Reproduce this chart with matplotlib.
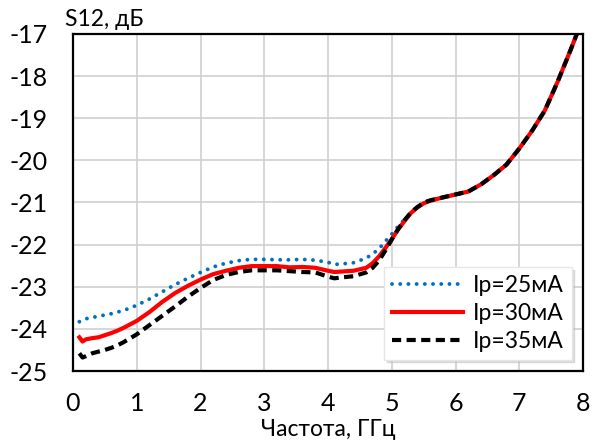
import numpy as np
import matplotlib.pyplot as plt

plt.rcParams['font.family'] = ['Lato', 'DejaVu Sans']
plt.rcParams['axes.unicode_minus'] = False

# Частота, ГГц
freq = [0.1, 0.15, 0.2, 0.3, 0.4, 0.5, 0.6, 0.7, 0.8, 0.9, 1.0, 1.2, 1.4, 1.6, 1.8,
        2.0, 2.2, 2.4, 2.6, 2.8, 3.0, 3.2, 3.4, 3.6, 3.8, 4.0, 4.1, 4.2, 4.4, 4.6,
        4.7, 4.8, 4.9, 5.0, 5.1, 5.2, 5.3, 5.4, 5.5, 5.6, 5.8, 6.0, 6.2, 6.4, 6.6,
        6.8, 7.0, 7.2, 7.4, 7.6, 7.8, 8.0]

# общий участок выше 5.6 ГГц (все три кривые совпадают)
tail = [-20.88, -20.81, -20.74, -20.57, -20.35, -20.10, -19.72, -19.30, -18.82,
        -18.14, -17.40, -16.62]

s12_25 = [-23.83, -23.80, -23.76, -23.73, -23.70, -23.67, -23.64, -23.60, -23.56,
          -23.50, -23.44, -23.29, -23.12, -22.95, -22.80, -22.66, -22.53, -22.44,
          -22.38, -22.35, -22.35, -22.36, -22.36, -22.35, -22.37, -22.42, -22.47,
          -22.46, -22.43, -22.32, -22.22, -22.10, -21.92, -21.75, -21.57, -21.40,
          -21.24, -21.10, -21.00, -20.94] + tail

s12_30 = [-24.20, -24.30, -24.25, -24.22, -24.20, -24.15, -24.10, -24.04, -23.97,
          -23.89, -23.81, -23.60, -23.36, -23.15, -22.98, -22.83, -22.70, -22.62,
          -22.55, -22.51, -22.51, -22.51, -22.54, -22.53, -22.55, -22.62, -22.65,
          -22.64, -22.62, -22.55, -22.44, -22.28, -22.08, -21.87, -21.64, -21.44,
          -21.25, -21.12, -21.02, -20.96] + tail

s12_35 = [-24.58, -24.68, -24.65, -24.58, -24.54, -24.50, -24.45, -24.39, -24.31,
          -24.22, -24.13, -23.91, -23.69, -23.47, -23.24, -23.03, -22.84, -22.72,
          -22.65, -22.61, -22.61, -22.61, -22.63, -22.65, -22.66, -22.76, -22.80,
          -22.78, -22.75, -22.66, -22.55, -22.38, -22.14, -21.88, -21.63, -21.42,
          -21.24, -21.11, -21.01, -20.95] + tail

labels = ['Ip=25мА', 'Ip=30мА', 'Ip=35мА']

FS = 16.5

fig = plt.figure(figsize=(5.95, 4.48), dpi=100)
ax = fig.add_axes([73 / 595, 77 / 448, 510 / 595, 337 / 448])

ax.plot(freq, s12_25, color='#0070C0', lw=2.8, linestyle=(0, (0.01, 2.1)),
        dash_capstyle='round', label=labels[0])
ax.plot(freq, s12_30, color='#FF0000', lw=3.0, label=labels[1])
ax.plot(freq, s12_35, color='black', lw=3.0, linestyle=(0, (2.2, 1.3)),
        label=labels[2])

ax.set_xlim(0, 8)
ax.set_ylim(-25, -17)
ax.set_xticks(np.arange(0, 9, 1))
ax.set_yticks(np.arange(-25, -16, 1))
ax.grid(True, color='#d0d0d0', lw=1.2)
ax.set_axisbelow(True)
ax.tick_params(length=0, labelsize=18)
ax.tick_params(axis='y', pad=18)
ax.tick_params(axis='x', pad=15)
for sp in ax.spines.values():
    sp.set_linewidth(1.6)

ax.set_xlabel('Частота, ГГц', fontsize=FS, labelpad=3)
fig.text(65 / 595, 1 - 26 / 448, 'S12, дБ', fontsize=FS, ha='left', va='baseline')

leg = ax.legend(loc='lower right', fontsize=FS, handlelength=3.1, handletextpad=0.4,
                labelspacing=0.3, borderpad=0.35, borderaxespad=0.5,
                fancybox=False, framealpha=1, edgecolor='#e6e6e6',
                shadow={'color': '#bfbfbf', 'alpha': 0.5, 'ox': 2, 'oy': -2})

fig.savefig('out.png', dpi=100)
